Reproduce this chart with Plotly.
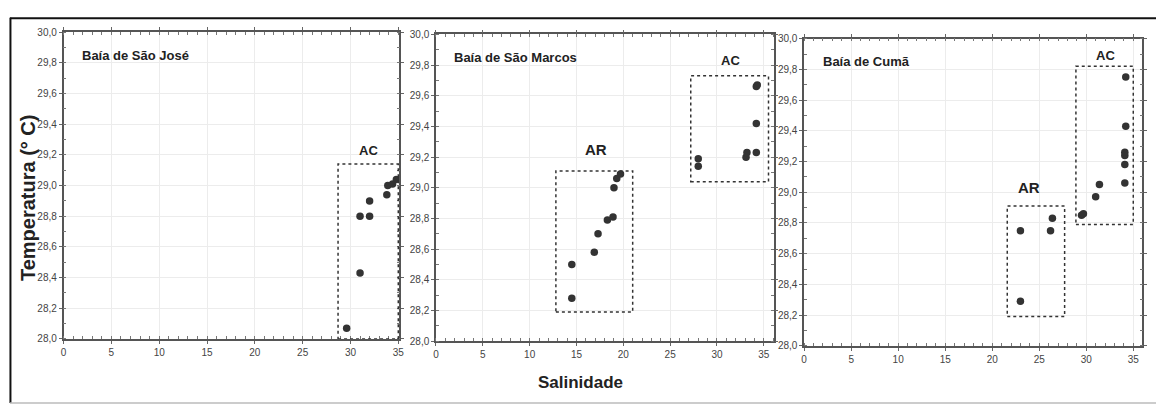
import plotly.graph_objects as go

# ---- data (salinity, temperature) ----
sj_sal = [29.6, 31.0, 31.0, 32.0, 32.0, 33.8, 33.9, 34.4, 34.8]
sj_temp = [28.07, 28.43, 28.80, 28.80, 28.90, 28.94, 29.00, 29.01, 29.04]

sm_sal = [14.5, 14.5, 16.9, 17.3, 18.3, 18.9, 19.0, 19.3, 19.7,
          28.0, 28.0, 33.1, 33.2, 34.2, 34.2, 34.2, 34.3]
sm_temp = [28.28, 28.50, 28.58, 28.70, 28.79, 28.81, 29.00, 29.06, 29.09,
           29.19, 29.14, 29.20, 29.23, 29.23, 29.42, 29.66, 29.67]

cu_sal = [23.0, 23.0, 26.2, 26.4, 29.5, 29.7, 31.0, 31.4,
          34.1, 34.1, 34.1, 34.1, 34.2, 34.2]
cu_temp = [28.29, 28.75, 28.75, 28.83, 28.85, 28.86, 28.97, 29.05,
           29.06, 29.18, 29.24, 29.26, 29.43, 29.75]

panel_titles = ["Baía de São José", "Baía de São Marcos", "Baía de Cumã"]

# group boxes
box_panel = [1, 2, 2, 3, 3]
box_label = ["AC", "AR", "AC", "AR", "AC"]
box_x0 = [28.7, 12.8, 27.2, 21.6, 28.9]
box_x1 = [35.0, 21.0, 35.5, 27.7, 35.0]
box_y0 = [28.0, 28.19, 29.04, 28.19, 28.79]
box_y1 = [29.14, 29.11, 29.73, 28.91, 29.82]
lab_x = [31.9, 17.05, 31.4, 23.9, 32.0]
lab_y = [29.23, 29.25, 29.83, 29.03, 29.89]

y_title = "Temperatura (° C)"
x_title = "Salinidade"

W, H = 1161, 411
# pixel geometry of the three plot areas (left, right, top, bottom)
geom = [(61, 399, 27, 343), (436, 776, 29.3, 345.3), (806.7, 1147.3, 33.7, 350)]
xmax = [35.1, 36.05, 35.97]

fig = go.Figure()
series = [(sj_sal, sj_temp), (sm_sal, sm_temp), (cu_sal, cu_temp)]
for i, (xs, ys) in enumerate(series):
    sfx = "" if i == 0 else str(i + 1)
    fig.add_trace(go.Scatter(
        x=xs, y=ys, mode="markers", xaxis="x" + sfx, yaxis="y" + sfx,
        marker=dict(size=7.5, color="#333333"), showlegend=False))

tickfont = dict(family="Liberation Sans, Arial", size=10, color="#444444")
for i, (l, r, t, b) in enumerate(geom):
    sfx = "" if i == 0 else str(i + 1)
    xa = dict(domain=[l / W, r / W], range=[0, xmax[i]], anchor="y" + sfx,
              tickmode="linear", tick0=0, dtick=5, showgrid=True, gridcolor="#ececec",
              zeroline=False, showline=True, linecolor="#555555", linewidth=1.5,
              mirror="allticks", ticks="outside", ticklen=3, tickcolor="#666666",
              tickfont=tickfont,
              minor=dict(ticks="inside", dtick=1, ticklen=3, tickcolor="#777777", showgrid=False))
    ya = dict(domain=[1 - b / H, 1 - t / H], range=[28, 30], anchor="x" + sfx,
              tickmode="linear", tick0=28, dtick=0.2, tickformat=".1f",
              showgrid=True, gridcolor="#ececec", zeroline=False, showline=True,
              linecolor="#555555", linewidth=1.5, mirror="allticks",
              ticks="outside", ticklen=3, tickcolor="#666666", tickfont=tickfont,
              minor=dict(ticks="inside", dtick=0.1, ticklen=3, tickcolor="#777777", showgrid=False))
    fig.update_layout(**{"xaxis" + sfx: xa, "yaxis" + sfx: ya})

annotations = []
title_font = dict(family="Liberation Sans, Arial", size=13, color="#222222")
for i, ttl in enumerate(panel_titles):
    sfx = "" if i == 0 else str(i + 1)
    annotations.append(dict(x=1.75, y=29.85, xref="x" + sfx, yref="y" + sfx,
                            text="<b>" + ttl + "</b>", showarrow=False,
                            xanchor="left", yanchor="middle", font=title_font))

shapes = []
for k in range(len(box_label)):
    p = box_panel[k]
    sfx = "" if p == 1 else str(p)
    shapes.append(dict(type="rect", xref="x" + sfx, yref="y" + sfx,
                       x0=box_x0[k], x1=box_x1[k], y0=box_y0[k], y1=box_y1[k],
                       line=dict(color="#333333", width=1.5, dash="dot")))
    fsize = 13 if box_label[k] == "AC" else 15
    annotations.append(dict(x=lab_x[k], y=lab_y[k], xref="x" + sfx, yref="y" + sfx,
                            text="<b>" + box_label[k] + "</b>", showarrow=False,
                            xanchor="center", yanchor="middle",
                            font=dict(family="Liberation Sans, Arial",
                                      size=fsize, color="#222222")))

annotations.append(dict(x=25 / W, y=1 - 197 / H, xref="paper", yref="paper",
                        text="<b>" + y_title + "</b>", textangle=-90, showarrow=False,
                        xanchor="center", yanchor="middle",
                        font=dict(family="Liberation Sans, Arial", size=20, color="#222222")))
annotations.append(dict(x=582 / W, y=1 - 388 / H, xref="paper", yref="paper",
                        text="<b>" + x_title + "</b>", showarrow=False,
                        xanchor="center", yanchor="middle",
                        font=dict(family="Liberation Sans, Arial", size=17, color="#222222")))

# outer frame of the figure
shapes.append(dict(type="line", xref="paper", yref="paper", x0=7 / W, x1=1.0,
                   y0=1 - 12.5 / H, y1=1 - 12.5 / H, line=dict(color="#111111", width=2)))
shapes.append(dict(type="line", xref="paper", yref="paper", x0=7.5 / W, x1=7.5 / W,
                   y0=1 - 12 / H, y1=1 - 409 / H, line=dict(color="#111111", width=2)))
shapes.append(dict(type="line", xref="paper", yref="paper", x0=7 / W, x1=1.0,
                   y0=1 - 409 / H, y1=1 - 409 / H, line=dict(color="#bbbbbb", width=1.5)))

fig.update_layout(width=W, height=H, autosize=False,
                  margin=dict(l=0, r=0, t=0, b=0),
                  paper_bgcolor="white", plot_bgcolor="white",
                  separators=", ", annotations=annotations, shapes=shapes)

fig.write_html("out.html")
